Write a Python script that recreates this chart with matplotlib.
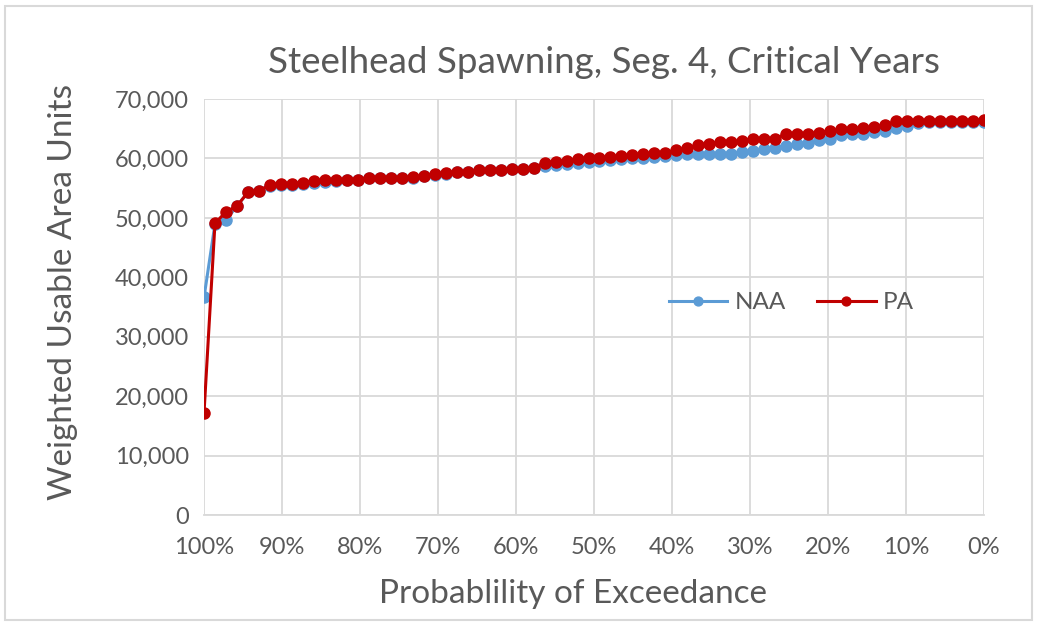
import numpy as np
import matplotlib.pyplot as plt
from matplotlib.ticker import FuncFormatter
from matplotlib.patches import Rectangle

# weighted usable area, sorted from driest to wettest critical year
naa = [36600, 49000, 49600, 52000, 54300, 54600, 55400, 55500, 55500, 55700,
       55900, 56100, 56200, 56300, 56400, 56650, 56700, 56700, 56700, 56750,
       57000, 57250, 57450, 57650, 57650, 58000, 58000, 58000, 58200, 58250,
       58400, 58700, 58900, 59100, 59300, 59350, 59550, 59750, 59900, 60000,
       60150, 60300, 60450, 60550, 60700, 60750, 60750, 60800, 60800, 61050,
       61250, 61550, 61700, 62150, 62500, 62650, 63050, 63250, 63950, 64100,
       64100, 64400, 64600, 65100, 65500, 65900, 66100, 66200, 66200, 66200,
       66200, 66200]
pa = [17100, 49100, 51000, 52000, 54300, 54600, 55500, 55700, 55700, 55900,
      56200, 56350, 56400, 56400, 56450, 56700, 56750, 56750, 56750, 56800,
      57050, 57300, 57500, 57700, 57700, 58050, 58050, 58050, 58250, 58300,
      58450, 59250, 59450, 59650, 59900, 60000, 60150, 60200, 60400, 60600,
      60700, 60850, 60850, 61400, 61700, 62250, 62450, 62800, 62700, 63000,
      63350, 63350, 63350, 64150, 64150, 64150, 64350, 64600, 64900, 64900,
      65050, 65350, 65600, 66300, 66350, 66350, 66350, 66350, 66350, 66350,
      66350, 66450]

# plotting position: rank / (n - 1), driest year at 100%
n = len(pa)
exceed = 1 - np.arange(n) / (n - 1)

grey = '#595959'
plt.rcParams['font.family'] = ['Lato', 'DejaVu Sans']

fig = plt.figure(figsize=(10.39, 6.26), dpi=100)
ax = fig.add_axes([204/1039, 1 - 515/626, 780/1039, 416/626])

ax.plot(exceed, naa, color='#5B9BD5', lw=2.2, marker='o', ms=8, label='NAA', zorder=3)
ax.plot(exceed, pa, color='#C00000', lw=2.2, marker='o', ms=8, label='PA', zorder=4)

ax.set_xlim(1, 0)
ax.set_ylim(0, 70000)
ax.set_xticks(np.arange(0, 1.01, 0.1))
ax.set_yticks(np.arange(0, 70001, 10000))
ax.xaxis.set_major_formatter(FuncFormatter(lambda v, p: f'{v*100:.0f}%'))
ax.yaxis.set_major_formatter(FuncFormatter(lambda v, p: f'{v:,.0f}'))
ax.tick_params(length=0, labelsize=17, colors=grey, pad=11)
ax.tick_params(axis='x', pad=16)
ax.grid(True, color='#D9D9D9', lw=1.3)
ax.set_axisbelow(True)
for s in ['top', 'right', 'left']:
    ax.spines[s].set_visible(False)
ax.spines['bottom'].set_color('#D9D9D9')
ax.spines['bottom'].set_linewidth(1.3)

ax.set_xlabel('Probablility of Exceedance', fontsize=24, color=grey)
ax.xaxis.set_label_coords(0.473, -0.155)
ax.set_ylabel('Weighted Usable Area Units', fontsize=24, color=grey)
ax.yaxis.set_label_coords(-0.162, 0.536)
ax.set_title('Steelhead Spawning, Seg. 4, Critical Years', fontsize=26.5, color=grey,
             pad=19, x=0.513)

leg = ax.legend(loc='center', bbox_to_anchor=(0.753, 0.51), ncol=2, frameon=False,
                fontsize=17.5, markerscale=0.8, handlelength=2.4, handletextpad=0.3,
                columnspacing=1.3)
for t in leg.get_texts():
    t.set_color(grey)

fig.patches.append(Rectangle((5/1039, 6/626), 1027/1039, 614/626, transform=fig.transFigure,
                             fill=False, edgecolor='#D9D9D9', lw=1.5))

fig.savefig('out.png', dpi=100)
